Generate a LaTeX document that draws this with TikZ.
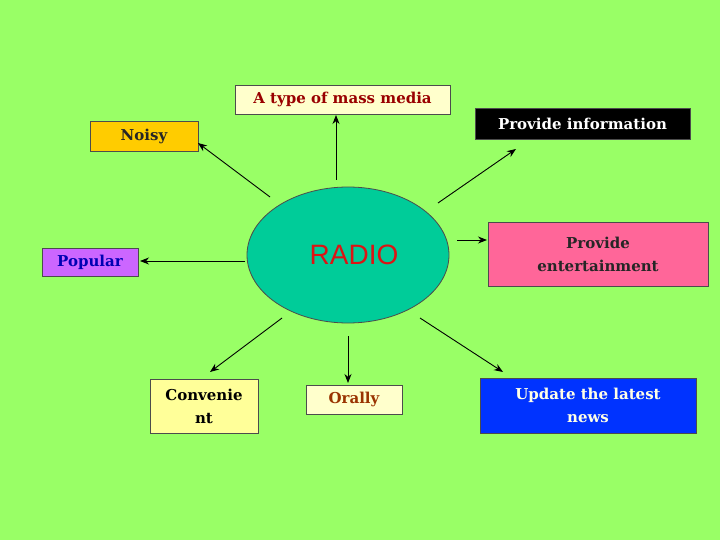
\documentclass[tikz,border=0pt]{standalone}
\usepackage{fontspec}
\setmainfont{DejaVu Serif}
\newfontfamily\sansf{Liberation Sans}
\usetikzlibrary{arrows.meta,shapes.geometric}
\definecolor{bg}{HTML}{99FF66}
\begin{document}
\begin{tikzpicture}[x=1pt,y=-1pt,
  box/.style={draw=black!70,line width=0.6pt,inner sep=0pt,font=\fontsize{15}{23}\selectfont\bfseries,align=center},
  arr/.style={-{Stealth[length=9pt,width=7pt]},line width=0.9pt}]
\fill[bg] (0,0) rectangle (720,540);
\useasboundingbox (0,0) rectangle (720,540);
\node[draw=black!70,fill={rgb,255:red,0;green,204;blue,153},ellipse,minimum width=202pt,minimum height=136pt,line width=0.8pt] (radio) at (348,255) {};
\node[font=\sansf\fontsize{28}{32}\selectfont,text={rgb,255:red,220;green,20;blue,20}] (rt) at (354,255) {RADIO};
\node[box,fill={rgb,255:red,255;green,255;blue,204},text={rgb,255:red,153;green,0;blue,0},minimum width=215pt,minimum height=29pt] (mass) at (342.5,99.5) {A type of mass media};
\node[box,fill=black,text=white,minimum width=215pt,minimum height=31pt] (info) at (582.5,123.5) {Provide information};
\node[box,fill={rgb,255:red,255;green,204;blue,0},text=black!85,minimum width=108pt,minimum height=30pt] (noisy) at (144,136) {Noisy};
\node[box,fill={rgb,255:red,204;green,102;blue,255},text={rgb,255:red,0;green,0;blue,180},minimum width=96pt,minimum height=28pt] (pop) at (90,262) {Popular};
\node[box,fill={rgb,255:red,255;green,102;blue,153},text=black!85,minimum width=220pt,minimum height=64pt] (ent) at (598,254) {Provide\\entertainment};
\node[box,fill={rgb,255:red,255;green,255;blue,153},text=black,minimum width=108pt,minimum height=54pt] (conv) at (204,406) {Convenie\\nt};
\node[box,fill={rgb,255:red,255;green,255;blue,204},text={rgb,255:red,153;green,51;blue,0},minimum width=96pt,minimum height=29pt] (oral) at (354,399.5) {Orally};
\node[box,fill={rgb,255:red,0;green,51;blue,255},text={rgb,255:red,255;green,255;blue,230},minimum width=216pt,minimum height=55pt] (news) at (588,405.5) {Update the latest\\news};
\coordinate (s1) at (336,180);\coordinate (e1) at (336,115);
\coordinate (s2) at (270,197);\coordinate (e2) at (198,143);
\coordinate (s3) at (438,203);\coordinate (e3) at (516,149);
\coordinate (s4) at (245,261);\coordinate (e4) at (140,261);
\coordinate (s5) at (457,240);\coordinate (e5) at (487,240);
\coordinate (s6) at (282,318);\coordinate (e6) at (210,372);
\coordinate (s7) at (348,336);\coordinate (e7) at (348,383);
\coordinate (s8) at (420,318);\coordinate (e8) at (503,372);
\foreach \i in {1,...,8} \draw[arr] (s\i) -- (e\i);
\end{tikzpicture}
\end{document}
